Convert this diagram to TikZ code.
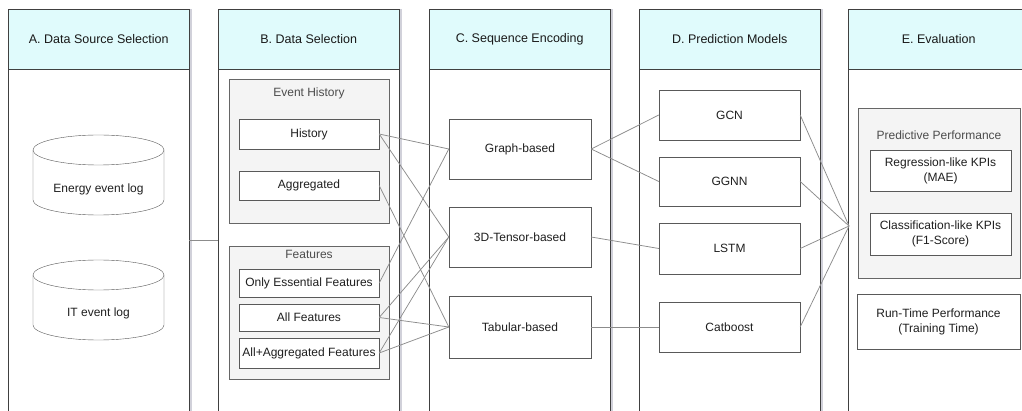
\documentclass[tikz,border=0pt]{standalone}
\usepackage{fontspec}
\setmainfont{Liberation Sans}
\usetikzlibrary{shadows}

\definecolor{headcyan}{HTML}{E0FBFC}
\definecolor{grpgray}{HTML}{F4F4F4}

\begin{document}
\begin{tikzpicture}
		[x=1pt,y=-1pt,
		lane/.style={draw=black!75,fill=white,anchor=north west,inner sep=0pt,
			minimum width=181pt,minimum height=406pt,
			drop shadow={shadow xshift=3pt,shadow yshift=0pt,fill=blue!20!black,opacity=.18}},
		head/.style={draw=black!75,fill=headcyan,anchor=north west,inner sep=0pt,
			minimum width=181pt,minimum height=60pt,text=black!90,
			font=\fontsize{12.5}{15}\selectfont},
		grp/.style={draw=black!60,fill=grpgray,inner sep=0pt},
		box/.style={draw=black!65,fill=white,inner sep=0pt,align=center,text=black!88,
			font=\fontsize{12}{15}\selectfont},
		txt/.style={text=black!88,font=\fontsize{12}{15}\selectfont},
		grptxt/.style={text=black!70,font=\fontsize{12}{15}\selectfont},
		link/.style={draw=black!45,line width=.75pt}]
		
		\useasboundingbox (0,0) rectangle (1022,411);
		
		% swimlanes
		\foreach \x/\n/\t in {8/A/{A. Data Source Selection},218/B/{B. Data Selection},
			429/C/{C. Sequence Encoding},639/D/{D. Prediction Models},848/E/{E. Evaluation}}
		{
			\node[lane] (lane\n) at (\x,9) {};
			\node[head] (head\n) at (\x,9) {\t};
		}
		
		% A: event logs
		\draw[draw=black!65,fill=white] (33,150) -- (33,200)
		arc[start angle=180,end angle=360,x radius=65.5pt,y radius=15pt] -- (164,150);
		\draw[draw=black!65,fill=white] (98.5,150) ellipse[x radius=65.5pt,y radius=15pt];
		\node[txt] (energylog) at (98.5,189) {Energy event log};
		
		\draw[draw=black!65,fill=white] (33,275) -- (33,325)
		arc[start angle=180,end angle=360,x radius=65.5pt,y radius=15pt] -- (164,275);
		\draw[draw=black!65,fill=white] (98.5,275) ellipse[x radius=65.5pt,y radius=15pt];
		\node[txt] (itlog) at (98.5,313) {IT event log};
		
		% B: data selection
		\node[grp,minimum width=160pt,minimum height=144pt] (histgrp) at (309,151) {};
		\node[grptxt] (histlbl) at (309,93) {Event History};
		\node[box,minimum width=140pt,minimum height=30pt] (history) at (309,134) {History};
		\node[box,minimum width=140pt,minimum height=29pt] (aggr) at (309,185.5) {Aggregated};
		
		\node[grp,minimum width=160pt,minimum height=133pt] (featgrp) at (309,312.5) {};
		\node[grptxt] (featlbl) at (309,254) {Features};
		\node[box,minimum width=140pt,minimum height=28pt] (essent) at (309,283) {Only Essential Features};
		\node[box,minimum width=140pt,minimum height=27pt] (allfeat) at (309,317.5) {All Features};
		\node[box,minimum width=140pt,minimum height=30pt] (allaggr) at (309,353) {All+Aggregated Features};
		
		% C: sequence encoding
		\node[box,minimum width=142pt,minimum height=60pt] (graph) at (520,149) {Graph-based};
		\node[box,minimum width=142pt,minimum height=60pt] (tensor) at (520,237) {3D-Tensor-based};
		\node[box,minimum width=142pt,minimum height=62pt] (tabular) at (520,327) {Tabular-based};
		
		% D: prediction models
		\node[box,minimum width=141pt,minimum height=50pt] (gcn) at (729.5,115) {GCN};
		\node[box,minimum width=141pt,minimum height=49pt] (ggnn) at (729.5,181.5) {GGNN};
		\node[box,minimum width=141pt,minimum height=51pt] (lstm) at (729.5,248.5) {LSTM};
		\node[box,minimum width=141pt,minimum height=50pt] (catboost) at (729.5,327) {Catboost};
		
		% E: evaluation
		\node[grp,minimum width=162pt,minimum height=170pt] (predgrp) at (939,193) {};
		\node[grptxt] (predlbl) at (939,135) {Predictive Performance};
		\node[box,minimum width=141pt,minimum height=41pt] (regkpi) at (940.5,170.5)
		{Regression-like KPIs\\(MAE)};
		\node[box,minimum width=141pt,minimum height=42pt] (clskpi) at (940.5,234)
		{Classification-like KPIs\\(F1-Score)};
		\node[box,minimum width=163pt,minimum height=55pt] (runtime) at (938.5,321.5)
		{Run-Time Performance\\(Training Time)};
		
		% connectors
		\coordinate (srcrow) at (0,240);
		\coordinate (evalin) at (849,226);
		\draw[link] (laneA.east |- srcrow) -- (laneB.west |- srcrow);
		
		\draw[link] (history.east) -- (graph.west);
		\draw[link] (history.east) -- (tensor.west);
		\draw[link] (aggr.east) -- (tabular.west);
		\draw[link] (essent.east) -- (graph.west);
		\draw[link] (allfeat.east) -- (tensor.west);
		\draw[link] (allfeat.east) -- (tabular.west);
		\draw[link] (allaggr.east) -- (tensor.west);
		\draw[link] (allaggr.east) -- (tabular.west);
		
		\draw[link] (graph.east) -- (gcn.west);
		\draw[link] (graph.east) -- (ggnn.west);
		\draw[link] (tensor.east) -- (lstm.west);
		\draw[link] (tabular.east) -- (catboost.west);
		
		\foreach \m in {gcn,ggnn,lstm,catboost}
			\draw[link] (\m.east) -- (evalin);
		
\end{tikzpicture}
\end{document}
